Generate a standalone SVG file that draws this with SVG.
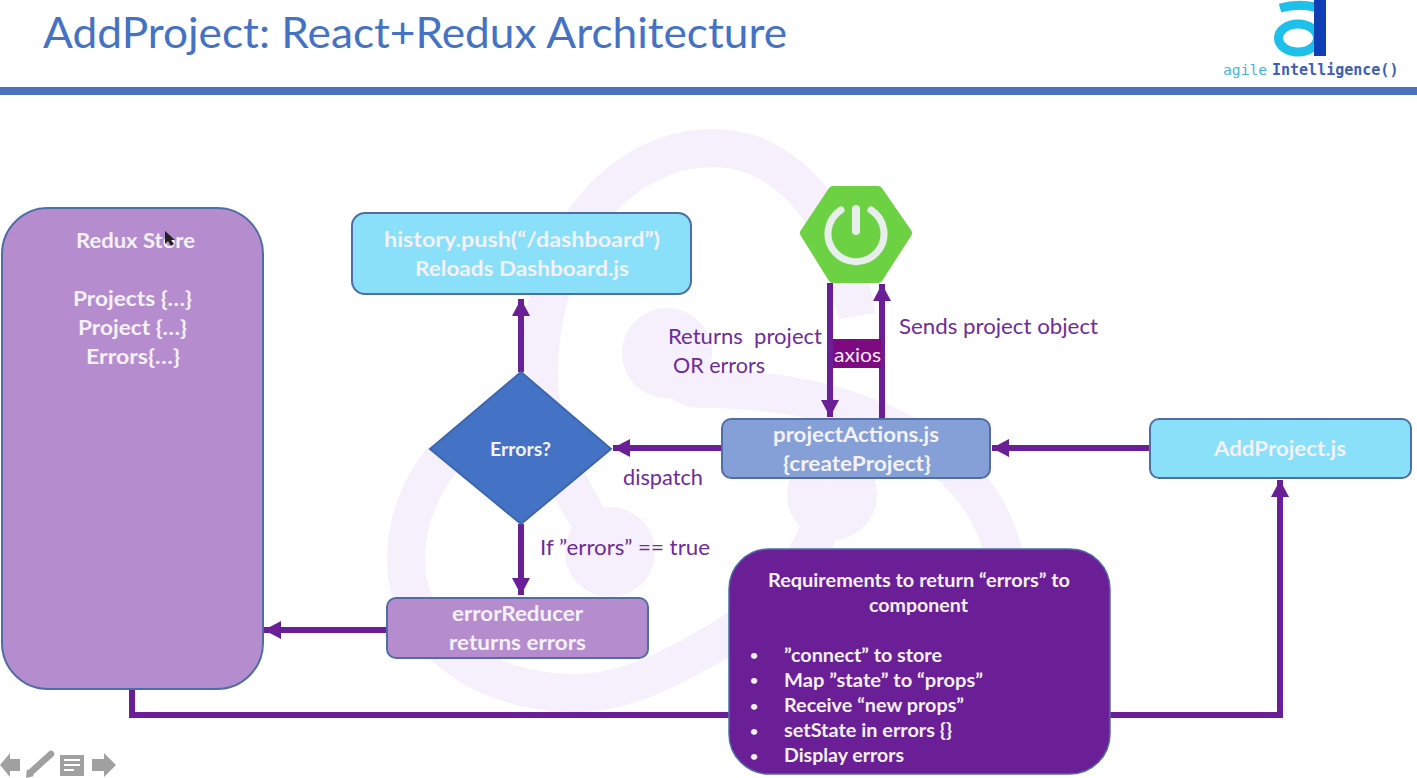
<svg xmlns="http://www.w3.org/2000/svg" width="1417" height="778" viewBox="0 0 1417 778">
<style>
text{font-family:Lato,"Liberation Sans",sans-serif}
.w{font-weight:700;fill:#f4f1fa;text-anchor:middle;font-size:21.5px}
.l{fill:#6f2b9b;font-size:21.500px}
.r{font-weight:700;fill:#f4f0f8;font-size:19px}
.box{stroke:#4f6da6;stroke-width:2}
.cyan{fill:#82def8;fill-opacity:.94}
.lil{fill:#b48bcd;fill-opacity:.98}
.wm{fill:none;stroke:#f5f0fb;stroke-width:38}
.wc{fill:#f5f0fb}
.c{fill:none;stroke:#6a1f96;stroke-width:6}
.g{fill:#a0a0a0}
</style>
<defs>
<marker id="ah" markerUnits="userSpaceOnUse" markerWidth="18" markerHeight="18" viewBox="0 0 18 18" refX="17" refY="9" orient="auto"><path d="M0 0L17 9L0 18Z" fill="#6a1f96"/></marker>
</defs>
<rect width="1417" height="778" fill="#fff"/>
<g id="watermark">
<circle class="wc" cx="667" cy="353" r="45"/>
<circle class="wc" cx="610" cy="552" r="45"/>
<circle class="wc" cx="832" cy="495" r="45"/>
<path class="wm" d="M595 530C565 480 538 430 539 370C541 240 620 148 713 148C770 148 815 190 835 240C845 265 852 290 857 316"/>
<path class="wm" d="M670 370C680 385 690 388 700 389C790 388 900 410 965 480C1005 525 1020 590 1000 650"/>
<path class="wm" d="M832 495C815 560 770 610 720 640C670 670 620 695 570 693C470 690 406 630 406 560C406 515 425 480 446 455"/>
</g>
<g id="header">
<text x="43" y="48" font-size="42" fill="#4472c4" textLength="744" lengthAdjust="spacingAndGlyphs">AddProject: React+Redux Architecture</text>
<rect x="0" y="87" width="1417" height="8" fill="#4a70bf"/>
</g>
<g id="logo">
<ellipse cx="1298" cy="38" rx="19.500" ry="14" fill="none" stroke="#1cc0e8" stroke-width="9"/>
<path d="M1280 8Q1298 3 1315 7" fill="none" stroke="#1cc0e8" stroke-width="9"/>
<rect x="1314" y="0" width="12" height="56" fill="#0f3fb4"/>
<text x="1223" y="75" font-size="14.700" style="font-family:'DejaVu Sans Mono',monospace" fill="#3fb6de">agile</text>
<text x="1272" y="75" font-size="15" font-weight="700" style="font-family:'DejaVu Sans Mono',monospace" fill="#3c5fb4">Intelligence()</text>
</g>
<g id="connectors">
<path class="c" d="M132 689V715H1280V480" marker-end="url(#ah)"/>
<path class="c" d="M521 372V299" marker-end="url(#ah)"/>
<path class="c" d="M521 524V595" marker-end="url(#ah)"/>
<path class="c" d="M387 630H264" marker-end="url(#ah)"/>
<path class="c" d="M722 448H613" marker-end="url(#ah)"/>
<path class="c" d="M1150 448H992" marker-end="url(#ah)"/>
<path class="c" d="M830 283V417" marker-end="url(#ah)"/>
<path class="c" d="M882 419V284" marker-end="url(#ah)"/>
</g>
<g id="redux-store">
<rect class="box lil" x="2" y="208" width="261" height="481" rx="46"/>
<text class="w" x="135.500" y="248" textLength="119" lengthAdjust="spacingAndGlyphs">Redux Store</text>
<text class="w" x="132.500" y="306" textLength="119" lengthAdjust="spacingAndGlyphs">Projects {…}</text>
<text class="w" x="132.500" y="335" textLength="109" lengthAdjust="spacingAndGlyphs">Project {…}</text>
<text class="w" x="133" y="364" textLength="94" lengthAdjust="spacingAndGlyphs">Errors{…}</text>
<path d="M165 231V244L168 241L171 246L174 244L171 240L175 240Z" fill="#222"/>
</g>
<g id="history-push">
<rect class="box cyan" x="352" y="213" width="339" height="81" rx="13"/>
<text class="w" x="522" y="247" textLength="276" lengthAdjust="spacingAndGlyphs">history.push(“/dashboard”)</text>
<text class="w" x="522" y="276" textLength="214" lengthAdjust="spacingAndGlyphs">Reloads Dashboard.js</text>
</g>
<g id="spring-boot">
<path d="M833 191H878L907 233L878 278H833L805 233Z" fill="#6dd243" stroke="#6dd243" stroke-width="10" stroke-linejoin="round"/>
<path d="M841 210A28 28 0 1 0 871 210" fill="none" stroke="#e8eeec" stroke-width="7" stroke-linecap="round"/>
<path d="M856 209V231" fill="none" stroke="#e8eeec" stroke-width="8" stroke-linecap="round"/>
</g>
<g id="axios">
<rect x="833" y="339" width="48" height="29" fill="#7e0a82"/>
<text x="857.500" y="362" font-size="20" fill="#f4e8f6" text-anchor="middle" textLength="47" lengthAdjust="spacingAndGlyphs">axios</text>
</g>
<g id="errors-decision">
<path d="M430 449L521 372L611 449L521 524Z" fill="#4472c4" stroke="#3d66ad" stroke-width="2"/>
<text class="w" x="520.500" y="456" style="font-size:18.500px" textLength="61" lengthAdjust="spacingAndGlyphs">Errors?</text>
</g>
<g id="project-actions">
<rect class="box" x="722" y="419" width="268" height="59" rx="9" fill="#84a0d6"/>
<text class="w" x="856" y="442" textLength="166" lengthAdjust="spacingAndGlyphs">projectActions.js</text>
<text class="w" x="857" y="471" textLength="148" lengthAdjust="spacingAndGlyphs">{createProject}</text>
</g>
<g id="add-project">
<rect class="box cyan" x="1150" y="419" width="261" height="59" rx="9"/>
<text class="w" x="1280" y="456" textLength="132" lengthAdjust="spacingAndGlyphs">AddProject.js</text>
</g>
<g id="error-reducer">
<rect class="box lil" x="387" y="598" width="261" height="60" rx="9"/>
<text class="w" x="517.500" y="621" textLength="131" lengthAdjust="spacingAndGlyphs">errorReducer</text>
<text class="w" x="517.500" y="650" textLength="137" lengthAdjust="spacingAndGlyphs">returns errors</text>
</g>
<g id="requirements">
<rect x="729" y="549" width="381" height="225" rx="40" fill="#6a1f96" stroke="#4f6da6" stroke-width="1.500"/>
<text class="r" x="919" y="587" text-anchor="middle" textLength="302" lengthAdjust="spacingAndGlyphs">Requirements to return “errors” to</text>
<text class="r" x="918.500" y="612" text-anchor="middle" textLength="99" lengthAdjust="spacingAndGlyphs">component</text>
<g text-anchor="middle" font-size="14" font-weight="700" fill="#f4f0f8">
<text x="754" y="660">•</text><text x="754" y="685">•</text><text x="754" y="711">•</text><text x="754" y="736">•</text><text x="754" y="761">•</text>
</g>
<text class="r" x="784" y="662" textLength="158" lengthAdjust="spacingAndGlyphs">”connect” to store</text>
<text class="r" x="784" y="687" textLength="199" lengthAdjust="spacingAndGlyphs">Map ”state” to “props”</text>
<text class="r" x="784" y="712" textLength="180" lengthAdjust="spacingAndGlyphs">Receive “new props”</text>
<text class="r" x="784" y="737" textLength="168" lengthAdjust="spacingAndGlyphs">setState in errors {}</text>
<text class="r" x="784" y="762" textLength="120" lengthAdjust="spacingAndGlyphs">Display errors</text>
</g>
<g id="labels">
<text class="l" x="668" y="344" xml:space="preserve" textLength="154" lengthAdjust="spacingAndGlyphs">Returns  project</text>
<text class="l" x="673" y="373" textLength="92" lengthAdjust="spacingAndGlyphs">OR errors</text>
<text class="l" x="899" y="334" textLength="199" lengthAdjust="spacingAndGlyphs">Sends project object</text>
<text class="l" x="623" y="485" textLength="80" lengthAdjust="spacingAndGlyphs">dispatch</text>
<text class="l" x="540" y="555" textLength="170" lengthAdjust="spacingAndGlyphs">If ”errors” == true</text>
</g>
<g id="nav-icons">
<path class="g" d="M0 765L10 753V759H20V771H10V777Z"/>
<path d="M30 773L51 754" stroke="#a0a0a0" stroke-width="6.500" stroke-linecap="round" fill="none"/>
<path class="g" d="M26 778L27 769L34 776Z"/>
<rect class="g" x="60" y="755" width="24" height="21"/>
<path d="M64 760H80M64 765H80M64 770H74" stroke="#fff" stroke-width="2" fill="none"/>
<path class="g" d="M92 759H104V753L116 765L104 777V771H92Z"/>
</g>
</svg>
